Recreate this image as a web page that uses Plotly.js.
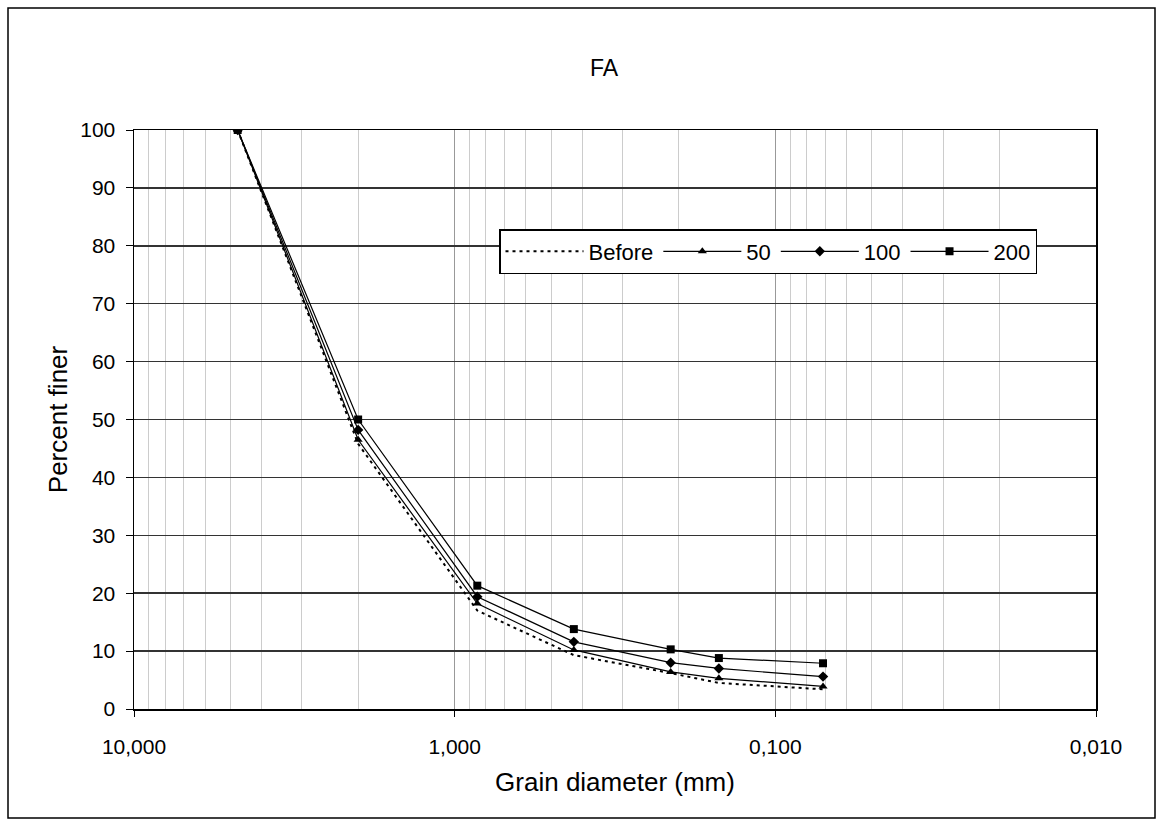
<!DOCTYPE html>
<html>
<head>
<meta charset="utf-8">
<script src="https://cdn.plot.ly/plotly-3.0.1.min.js"></script>
<style>
  html, body { margin: 0; padding: 0; background: #fff; }
  #chart { width: 1164px; height: 828px; }
</style>
</head>
<body>
<div id="chart"></div>
<script>
// Grain diameter (mm) of the sieves
const sieveSizes = [4.75, 2.0, 0.85, 0.425, 0.212, 0.15, 0.071];
// Percent finer for each series
const before = [100, 45.8, 17.0, 9.3, 6.2, 4.5, 3.4];
const s50    = [100, 46.5, 18.2, 10.2, 6.4, 5.3, 3.9];
const s100   = [100, 48.2, 19.4, 11.6, 8.0, 7.0, 5.6];
const s200   = [100, 50.0, 21.3, 13.8, 10.3, 8.8, 7.9];
const seriesNames = ['Before', '50', '100', '200'];
// X tick labels (decimal comma)
const xTickVals = [10, 1, 0.1, 0.01];
const xTickText = ['10,000', '1,000', '0,100', '0,010'];
const yTickVals = [0, 10, 20, 30, 40, 50, 60, 70, 80, 90, 100];

const FONT = 'Liberation Sans, Arial, Helvetica, sans-serif';

const traces = [
  {x: sieveSizes, y: before, name: seriesNames[0], mode: 'lines',
   line: {color: '#000', width: 2, dash: '3px,4px'}},
  {x: sieveSizes, y: s50, name: seriesNames[1], mode: 'lines+markers',
   line: {color: '#000', width: 1.2}, marker: {symbol: 'triangle-up', size: 8, color: '#000'}},
  {x: sieveSizes, y: s100, name: seriesNames[2], mode: 'lines+markers',
   line: {color: '#000', width: 1.2}, marker: {symbol: 'diamond', size: 8, color: '#000'}},
  {x: sieveSizes, y: s200, name: seriesNames[3], mode: 'lines+markers',
   line: {color: '#000', width: 1.2}, marker: {symbol: 'square', size: 8, color: '#000'}}
];

const layout = {
  width: 1164, height: 828,
  margin: {l: 134, r: 68, t: 130, b: 119},
  paper_bgcolor: '#fff', plot_bgcolor: '#fff',
  font: {family: FONT, size: 21, color: '#000'},
  showlegend: true,
  title: {text: 'FA', font: {family: FONT, size: 23, color: '#000'},
          xref: 'paper', x: 0.4886, xanchor: 'center', yref: 'container', y: 1 - 68/828, yanchor: 'middle'},
  xaxis: {
    type: 'log', range: [1, -2], autorange: false,
    tickmode: 'array', tickvals: xTickVals, ticktext: xTickText,
    ticks: 'outside', ticklen: 6, tickcolor: '#000', tickwidth: 1,
    ticklabelstandoff: 12,
    showline: true, linecolor: '#000', linewidth: 1.5, mirror: true,
    showgrid: true, gridcolor: '#999', gridwidth: 1.2,
    minor: {dtick: 'D1', showgrid: true, gridcolor: '#cccccc', gridwidth: 1, ticks: ''},
    zeroline: false,
    tickfont: {family: FONT, size: 21, color: '#000'},
    title: {text: 'Grain diameter (mm)', font: {family: FONT, size: 26, color: '#000'}, standoff: 16}
  },
  yaxis: {
    range: [0, 100], autorange: false,
    tickmode: 'array', tickvals: yTickVals,
    ticks: 'outside', ticklen: 7, tickcolor: '#000', tickwidth: 1,
    ticklabelstandoff: 6,
    showline: true, linecolor: '#000', linewidth: 1.5, mirror: true,
    showgrid: true, gridcolor: '#333', gridwidth: 1.5,
    zeroline: false,
    tickfont: {family: FONT, size: 21, color: '#000'},
    title: {text: 'Percent finer', font: {family: FONT, size: 26, color: '#000'}, standoff: 5}
  },
  legend: {
    orientation: 'h', x: (499-134)/962, xanchor: 'left', y: (709-229)/579, yanchor: 'top',
    bgcolor: '#fff', bordercolor: '#000', borderwidth: 1.5,
    itemwidth: 78, font: {family: FONT, size: 22, color: '#000'},
    traceorder: 'normal'
  },
  shapes: [{
    type: 'rect', xref: 'paper', yref: 'paper',
    x0: (8-134)/962, x1: (1155-134)/962, y0: (709-818)/579, y1: (709-8)/579,
    line: {color: '#000', width: 1.5}, fillcolor: 'rgba(0,0,0,0)', layer: 'above'
  }]
};

Plotly.newPlot('chart', traces, layout, {displayModeBar: false, staticPlot: true});
</script>
</body>
</html>
